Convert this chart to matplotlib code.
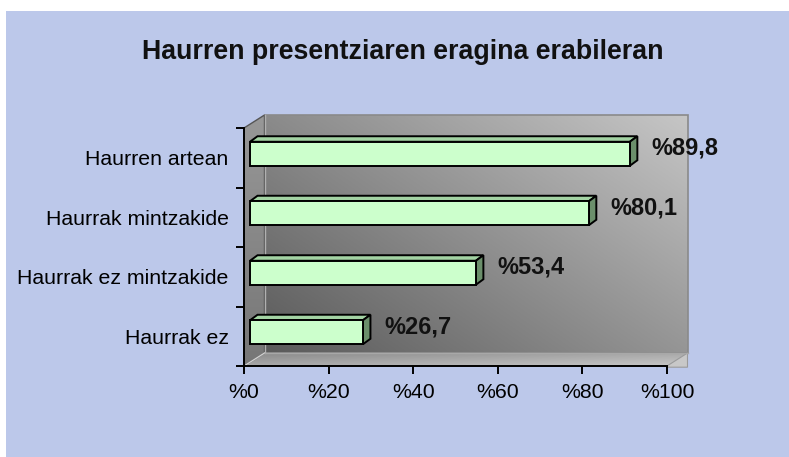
import numpy as np
import matplotlib
matplotlib.use("Agg")
from matplotlib import pyplot as plt
from matplotlib.patches import Polygon, Rectangle

categories = ["Haurren artean", "Haurrak mintzakide", "Haurrak ez mintzakide", "Haurrak ez"]
values = [89.8, 80.1, 53.4, 26.7]
value_labels = ["%89,8", "%80,1", "%53,4", "%26,7"]
xticks = [0, 20, 40, 60, 80, 100]
xtick_labels = ["%0", "%20", "%40", "%60", "%80", "%100"]
title = "Haurren presentziaren eragina erabileran"

W, H = 789, 457
plt.rcParams['font.family'] = ['Liberation Sans', 'DejaVu Sans']

fig = plt.figure(figsize=(W / 100, H / 100), dpi=100, facecolor="white")
# blue chart area
fig.patches.append(Rectangle((6 / W, 0), 1 - 6 / W, 1 - 11 / H, transform=fig.transFigure,
                             facecolor="#bcc8ea", edgecolor="none", zorder=-5))

ax = fig.add_axes([244 / W, (H - 366) / H, 423 / W, 238 / H])
ax.set_facecolor("none")

n = len(categories)
ypos = np.arange(n)[::-1]          # top category first
px_x = 100 / 423                   # one pixel in x data units
px_y = 1 / 59.5                    # one pixel in category units
DX, DY = 20.5 * px_x, 13 * px_y    # wall depth
FX, FY = 6 * px_x, 4 * px_y        # bar front offset
BDX, BDY = 7.5 * px_x, 5.5 * px_y  # bar depth
bh = 24 * px_y
y0, y1 = -0.5, n - 0.5
fig_clip = fig.bbox

def grad_wall(poly_pts, extent, c_dark, c_light, wx, wy):
    poly = Polygon(poly_pts, closed=True, facecolor="none", edgecolor="none",
                   transform=ax.transData)
    ax.add_patch(poly)
    poly.set_clip_on(False)
    u = np.linspace(0, 1, 200)
    uu, vv = np.meshgrid(u, u)
    g = np.clip(wx * uu + wy * vv + (0 if wx >= 0 else -wx) + (0 if wy >= 0 else -wy), 0, 1)
    c0 = np.array(matplotlib.colors.to_rgb(c_dark))
    c1 = np.array(matplotlib.colors.to_rgb(c_light))
    img = c0 + (c1 - c0) * g[..., None]
    im = ax.imshow(img, extent=extent, origin="lower", aspect="auto", zorder=0.5,
                   interpolation="bilinear")
    im.set_clip_box(fig_clip)
    im.set_clip_path(poly)

# back wall
grad_wall([(DX, y0 + DY), (100 + DX, y0 + DY), (100 + DX, y1 + DY), (DX, y1 + DY)],
          [DX, 100 + DX, y0 + DY, y1 + DY], "#5a5a5a", "#c6c6c6", 0.55, 0.45)
ax.add_patch(Polygon([(DX, y0 + DY), (100 + DX, y0 + DY), (100 + DX, y1 + DY), (DX, y1 + DY)],
                     closed=True, facecolor="none", edgecolor="#8a8a8a", lw=1.2,
                     clip_on=False, zorder=0.6))
# left wall
grad_wall([(0, y0), (DX, y0 + DY), (DX, y1 + DY), (0, y1)],
          [0, DX, y0, y1 + DY], "#767676", "#989898", 0, 1)
ax.add_patch(Polygon([(0, y0), (DX, y0 + DY), (DX, y1 + DY), (0, y1)], closed=True,
                     facecolor="none", edgecolor="#555555", lw=1.0, clip_on=False, zorder=0.6))
ax.plot([DX, DX], [y0 + DY, y1 + DY], color="#b0b0b0", lw=1.0, clip_on=False, zorder=0.7)
# floor
grad_wall([(0, y0), (100, y0), (100 + DX, y0 + DY), (DX, y0 + DY)],
          [0, 100 + DX, y0, y0 + DY], "#8a8a8a", "#c8c8c8", 0.5, -0.5)
ax.add_patch(Polygon([(100, y0), (100 + DX, y0 + DY), (100 + DX, y0 - 0.02), (100, y0 - 0.02)],
                     closed=True, facecolor="#c8c8c8", edgecolor="#9a9a9a", lw=0.8,
                     clip_on=False, zorder=0.6))
ax.plot([0, DX], [y0, y0 + DY], color="#d0d0d0", lw=1.0, clip_on=False, zorder=0.7)
ax.plot([DX, 100 + DX], [y0 + DY, y0 + DY], color="#a8a8a8", lw=1.0, clip_on=False, zorder=0.7)

# 3d bars
for y, v, lab in zip(ypos, values, value_labels):
    x0 = FX
    yb = y - bh / 2 + FY
    yt = yb + bh
    ax.add_patch(Polygon([(x0, yt), (x0 + v, yt), (x0 + v + BDX, yt + BDY), (x0 + BDX, yt + BDY)],
                         closed=True, facecolor="#a3d3a3", edgecolor="black", lw=1.4,
                         clip_on=False, zorder=2))
    ax.add_patch(Polygon([(x0 + v, yb), (x0 + v, yt), (x0 + v + BDX, yt + BDY), (x0 + v + BDX, yb + BDY)],
                         closed=True, facecolor="#6b8f6b", edgecolor="black", lw=1.4,
                         clip_on=False, zorder=2))
    ax.add_patch(Rectangle((x0, yb), v, bh, facecolor="#ccffcc", edgecolor="black", lw=1.4,
                           clip_on=False, zorder=3))
    ax.annotate(lab, xy=(x0 + v + BDX, y + FY + BDY / 2), xytext=(10, 2),
                textcoords="offset points", ha="left", va="center",
                fontsize=17, fontweight="bold", color="#111111", zorder=4)

ax.set_xlim(0, 100)
ax.set_ylim(y0, y1)
ax.spines["top"].set_visible(False)
ax.spines["right"].set_visible(False)
ax.spines["left"].set_linewidth(1.4)
ax.spines["bottom"].set_linewidth(1.4)
ax.spines["left"].set_zorder(5)
ax.spines["bottom"].set_zorder(5)

ax.set_xticks(xticks)
ax.set_xticklabels(xtick_labels, fontsize=15.3)
ax.set_yticks(np.arange(n + 1) - 0.5)
ax.set_yticklabels([])
ax.set_yticks(ypos, minor=True)
ax.set_yticklabels(categories, minor=True, fontsize=15.3)
ax.tick_params(axis="y", which="minor", length=0, pad=11)
ax.tick_params(axis="both", which="major", direction="out", length=6, width=1.4, color="black")
ax.tick_params(axis="x", pad=6)

fig.text((140 + 666) / 2 / W, (H - 59) / H, title, ha="center", va="baseline",
         fontsize=19.3, fontweight="bold", color="#111111")

fig.savefig("out.png", dpi=100, facecolor="white")
